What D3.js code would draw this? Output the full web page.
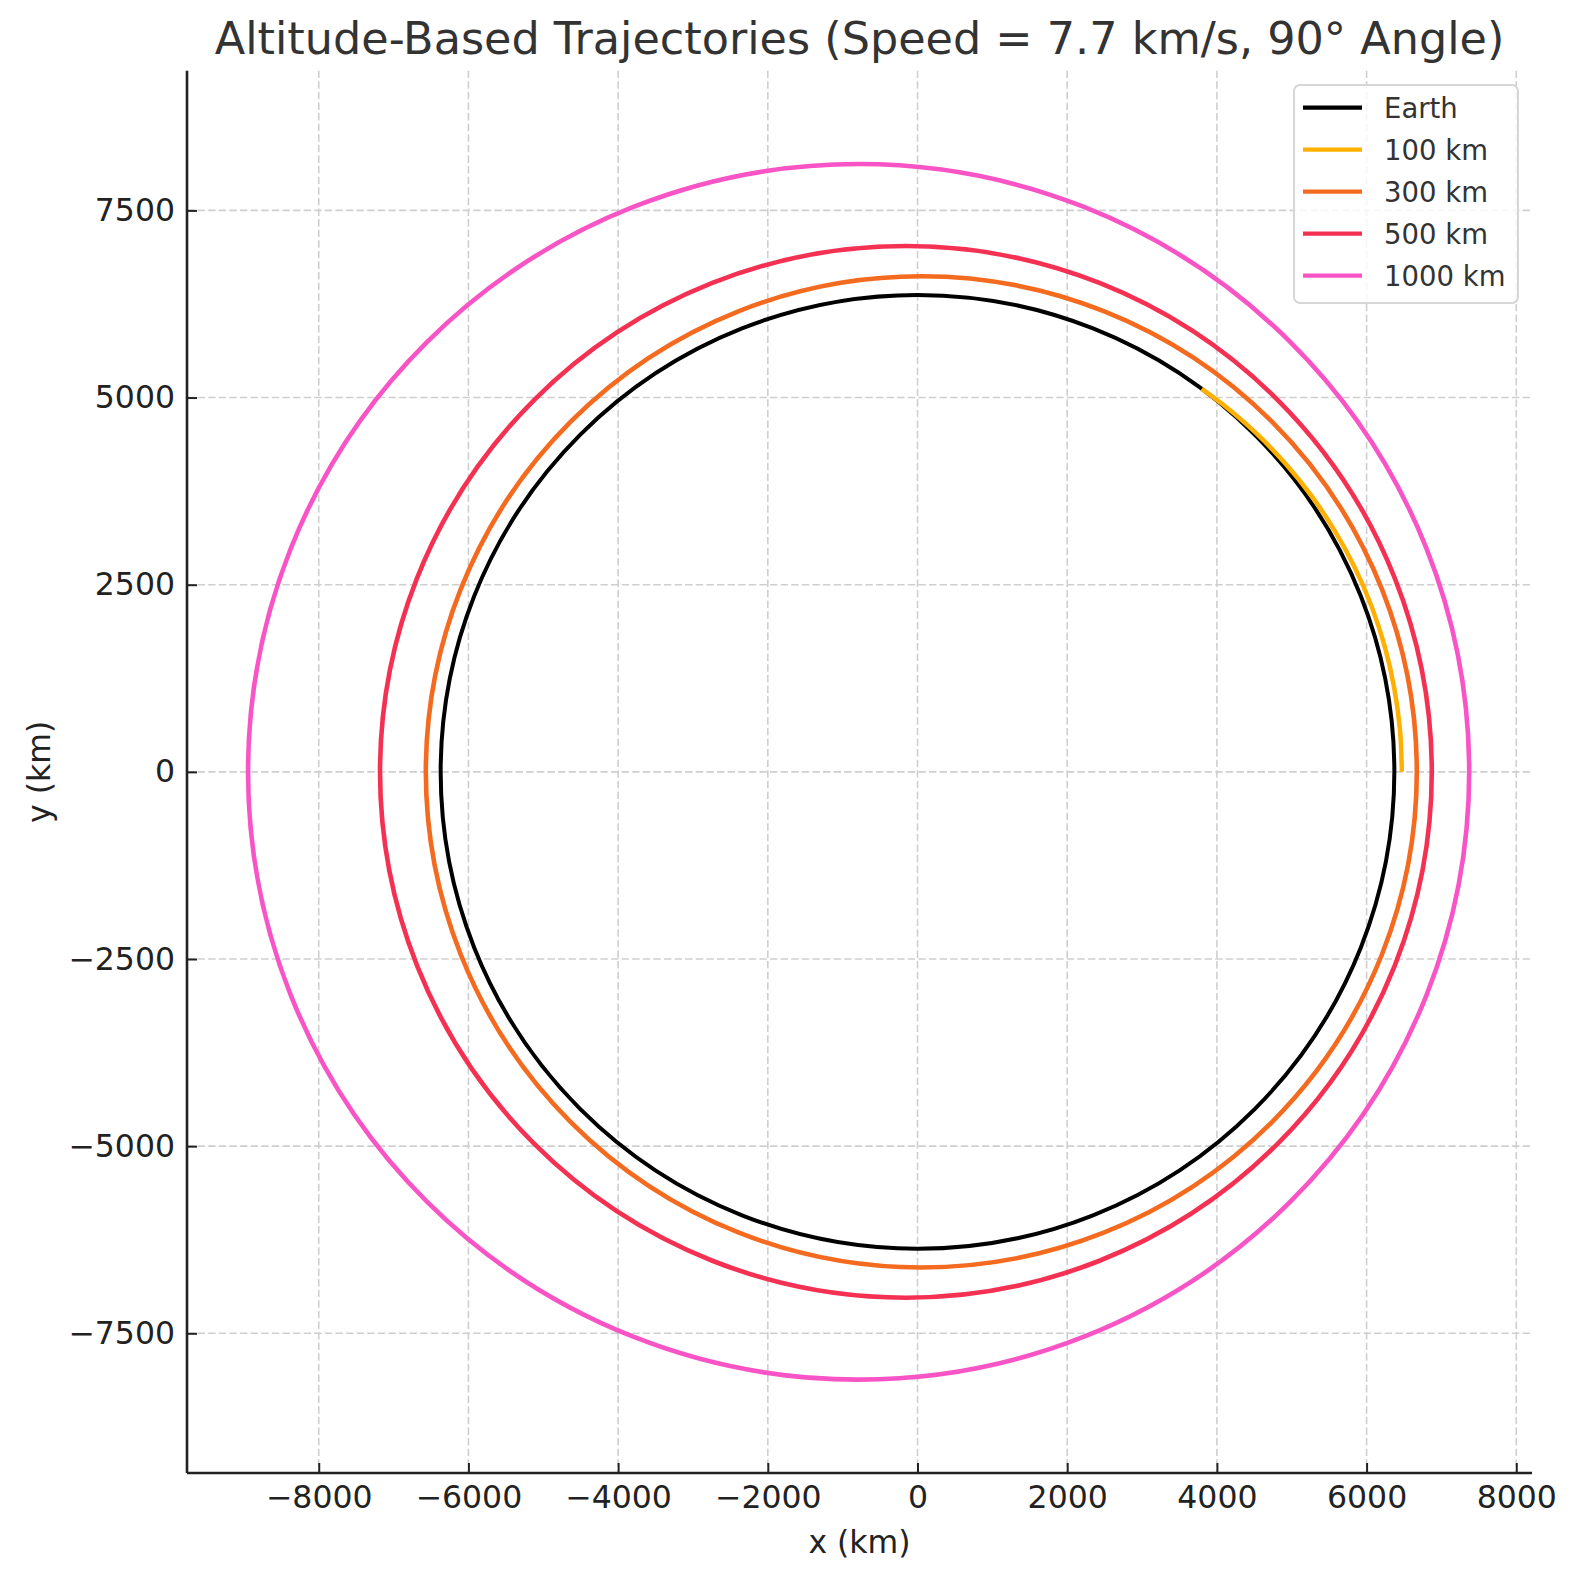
<!DOCTYPE html>
<html>
<head>
<meta charset="utf-8">
<script src="https://cdn.jsdelivr.net/npm/d3@7"></script>
<style>
  html, body { margin: 0; padding: 0; background: #fff; }
  svg { display: block; font-family: "DejaVu Sans", sans-serif; }
</style>
</head>
<body>
<svg id="chart" width="1578" height="1580"></svg>
<script>
// ---------- data (km) ----------
const xTicks = [-8000, -6000, -4000, -2000, 0, 2000, 4000, 6000, 8000];
const yTicks = [-7500, -5000, -2500, 0, 2500, 5000, 7500];
const xDomain = [-9760, 8210];
const yDomain = [-9366, 9366];

const earthRadius = 6371;

// closed orbits: extents (km)
const orbitNames = ["300 km", "500 km", "1000 km"];
const orbitXMin = [-6569, -7181, -8944];
const orbitXMax = [6671, 6871, 7371];
const orbitYMax = [6620, 7024, 8119];

// 100 km trajectory (reentry arc) (km)
const traj100X = [6471, 6446, 6369, 6243, 6067, 5844, 5575, 5264, 4912, 4524, 4102, 3797];
const traj100Y = [0, 564, 1123, 1673, 2208, 2725, 3219, 3686, 4122, 4524, 4889, 5116];

const legendLabels = ["Earth", "100 km", "300 km", "500 km", "1000 km"];
const seriesColors = ["#000000", "#ffb000", "#f46a1f", "#f43152", "#f854c6"];

// ---------- chart ----------
const svg = d3.select("#chart");
const L = 187, R = 1532, T = 70.7, B = 1473;
const x = d3.scaleLinear().domain(xDomain).range([L, R]);
const y = d3.scaleLinear().domain(yDomain).range([B, T]);

// grid
const grid = svg.append("g");
grid.selectAll("line.gx").data(xTicks).join("line")
  .attr("x1", d => x(d)).attr("x2", d => x(d))
  .attr("y1", T).attr("y2", B)
  .attr("stroke", "#cfcfcf").attr("stroke-width", 1.6)
  .attr("stroke-dasharray", "7.4,3.2");
grid.selectAll("line.gy").data(yTicks).join("line")
  .attr("y1", d => y(d)).attr("y2", d => y(d))
  .attr("x1", L).attr("x2", R)
  .attr("stroke", "#cfcfcf").attr("stroke-width", 1.6)
  .attr("stroke-dasharray", "7.4,3.2");

const plot = svg.append("g");

// Earth
plot.append("ellipse")
  .attr("cx", x(0)).attr("cy", y(0))
  .attr("rx", x(earthRadius) - x(0)).attr("ry", y(0) - y(earthRadius))
  .attr("fill", "none").attr("stroke", seriesColors[0]).attr("stroke-width", 4);

// 100 km
const pts100 = traj100X.map((d, i) => [d, traj100Y[i]]);
plot.append("path")
  .attr("d", d3.line().x(d => x(d[0])).y(d => y(d[1])).curve(d3.curveCatmullRom)(pts100))
  .attr("fill", "none").attr("stroke", seriesColors[1]).attr("stroke-width", 4.5);

// closed orbits
orbitNames.forEach((n, i) => {
  const cx = (orbitXMin[i] + orbitXMax[i]) / 2;
  const rx = (orbitXMax[i] - orbitXMin[i]) / 2;
  plot.append("ellipse")
    .attr("cx", x(cx)).attr("cy", y(0))
    .attr("rx", x(cx + rx) - x(cx)).attr("ry", y(0) - y(orbitYMax[i]))
    .attr("fill", "none").attr("stroke", seriesColors[i + 2]).attr("stroke-width", 4.6);
});

// axes
const fmt = d3.format("d");
const xAxis = svg.append("g").attr("transform", `translate(0,${B})`)
  .call(d3.axisBottom(x).tickValues(xTicks).tickFormat(fmt).tickSizeInner(-10).tickSizeOuter(0).tickPadding(13));
const yAxis = svg.append("g").attr("transform", `translate(${L},0)`)
  .call(d3.axisLeft(y).tickValues(yTicks).tickFormat(fmt).tickSizeInner(-10).tickSizeOuter(0).tickPadding(12));
[xAxis, yAxis].forEach(a => {
  a.select(".domain").attr("stroke", "#222").attr("stroke-width", 2.6);
  a.selectAll(".tick line").attr("stroke", "#222").attr("stroke-width", 2);
  a.selectAll(".tick text").attr("fill", "#222").style("font-size", "31.5px")
    .style("font-family", "DejaVu Sans, sans-serif");
});
xAxis.select(".domain").attr("d", `M${L},0H${R}`);
yAxis.select(".domain").attr("d", `M0,${T}V${B}`);

// labels
svg.append("text").attr("x", (L + R) / 2).attr("y", 1553)
  .attr("text-anchor", "middle").attr("fill", "#222").style("font-size", "31.5px").text("x (km)");
svg.append("text").attr("transform", `translate(50,${(T + B) / 2}) rotate(-90)`)
  .attr("text-anchor", "middle").attr("fill", "#222").style("font-size", "31.5px").text("y (km)");
svg.append("text").attr("x", (L + R) / 2).attr("y", 54)
  .attr("text-anchor", "middle").attr("fill", "#333").style("font-size", "44.5px")
  .text("Altitude-Based Trajectories (Speed = 7.7 km/s, 90° Angle)");

// legend
const lg = svg.append("g");
lg.append("rect").attr("x", 1294).attr("y", 85).attr("width", 224).attr("height", 218)
  .attr("rx", 6).attr("fill", "#fff").attr("fill-opacity", 0.8)
  .attr("stroke", "#d6d6d6").attr("stroke-width", 2);
legendLabels.forEach((lab, i) => {
  const yy = 107.7 + i * 42;
  lg.append("line").attr("x1", 1303).attr("x2", 1362).attr("y1", yy).attr("y2", yy)
    .attr("stroke", seriesColors[i]).attr("stroke-width", 4.2);
  lg.append("text").attr("x", 1384).attr("y", yy).attr("dy", "0.36em")
    .attr("fill", "#333").style("font-size", "27.5px").text(lab);
});
</script>
</body>
</html>
